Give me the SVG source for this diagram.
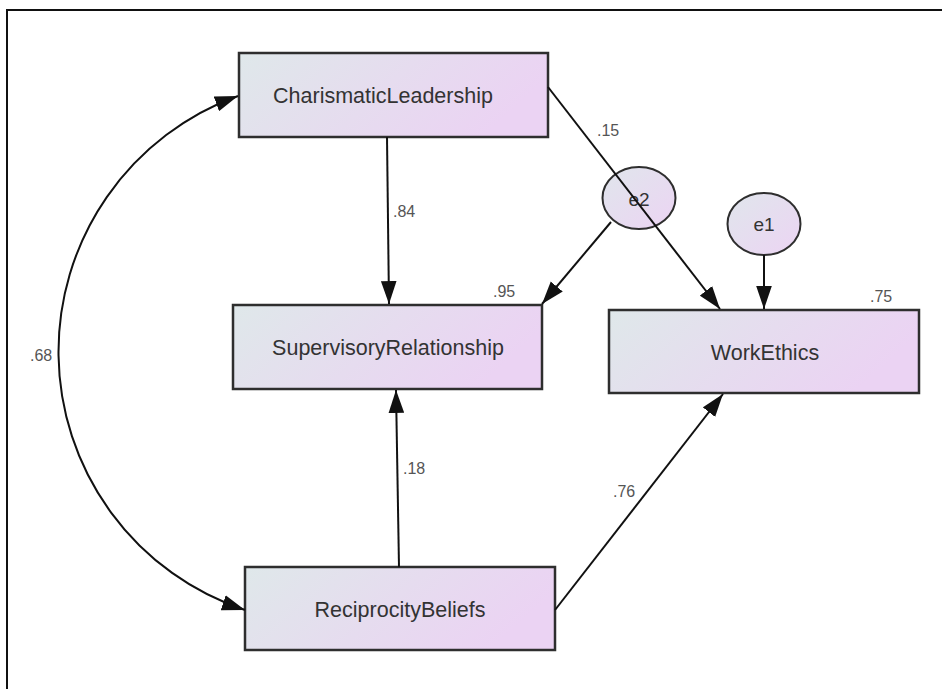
<svg xmlns="http://www.w3.org/2000/svg" width="942" height="689" viewBox="0 0 942 689">
<defs>
<linearGradient id="gBox" x1="0" y1="0" x2="1" y2="0.3">
<stop offset="0" stop-color="#dfe8ea"/>
<stop offset="0.55" stop-color="#e6dcef"/>
<stop offset="1" stop-color="#ebd3f3"/>
</linearGradient>
<linearGradient id="gEll" x1="0" y1="0" x2="1" y2="1">
<stop offset="0" stop-color="#e0e6ec"/>
<stop offset="1" stop-color="#ecd4f3"/>
</linearGradient>
<marker id="arr" markerUnits="userSpaceOnUse" markerWidth="24" markerHeight="16" refX="22" refY="7.5" orient="auto-start-reverse" viewBox="0 0 23 15">
<path d="M0,0 L22,7.5 L0,15 z" fill="#111"/>
</marker>
<style>
.box{fill:url(#gBox);stroke:#2e2e2e;stroke-width:2.5}
.ell{fill:url(#gEll);stroke:#2e2e2e;stroke-width:2}
.nt{font-family:"Liberation Sans",Arial,sans-serif;font-size:21.5px;fill:#333;text-anchor:middle}
.lb{font-family:"Liberation Sans",Arial,sans-serif;font-size:16px;fill:#555}
.cn{fill:none;stroke:#111;stroke-width:2;marker-end:url(#arr)}
</style>
</defs>
<rect width="942" height="689" fill="#fff"/>
<path d="M7,689 L7,10 L942,10" fill="none" stroke="#111" stroke-width="2"/>
<g id="CharismaticLeadership">
<rect class="box" x="239" y="53" width="309" height="84"/>
<text class="nt" x="383" y="103">CharismaticLeadership</text>
</g>
<g id="SupervisoryRelationship">
<rect class="box" x="233" y="305" width="309" height="84"/>
<text class="nt" x="388" y="355">SupervisoryRelationship</text>
<text class="lb" x="493" y="297">.95</text>
</g>
<g id="WorkEthics">
<rect class="box" x="609" y="310" width="310" height="83"/>
<text class="nt" x="765" y="360">WorkEthics</text>
<text class="lb" x="870" y="302">.75</text>
</g>
<g id="ReciprocityBeliefs">
<rect class="box" x="245" y="567" width="310" height="83"/>
<text class="nt" x="400" y="617">ReciprocityBeliefs</text>
</g>
<g id="e2">
<ellipse class="ell" cx="639" cy="198" rx="36.5" ry="31"/>
<text class="nt" x="639" y="206" style="font-size:19px">e2</text>
</g>
<g id="e1">
<ellipse class="ell" cx="764" cy="224" rx="36.5" ry="31"/>
<text class="nt" x="764" y="231" style="font-size:19px">e1</text>
</g>
<g id="connectors">
<path class="cn" d="M238,96 A272,272 0 0 0 245,610" style="marker-start:url(#arr)"/>
<path class="cn" d="M387,137 L389,304"/>
<path class="cn" d="M399,567 L396,390"/>
<path class="cn" d="M548,87 L720,309"/>
<path class="cn" d="M611,222 L542,304"/>
<path class="cn" d="M764,255 L764,309"/>
<path class="cn" d="M555,610 L723,394"/>
<text class="lb" x="597" y="136">.15</text>
<text class="lb" x="393" y="217">.84</text>
<text class="lb" x="403" y="474">.18</text>
<text class="lb" x="30" y="361">.68</text>
<text class="lb" x="613" y="497">.76</text>
</g>
</svg>
